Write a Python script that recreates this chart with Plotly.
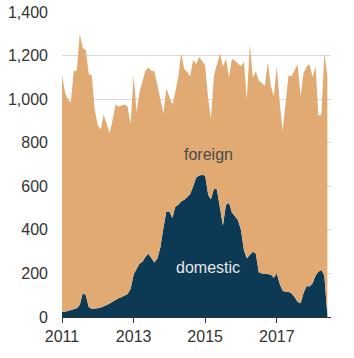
import plotly.graph_objects as go
import pandas as pd

months = pd.date_range("2011-01-01", periods=90, freq="MS")

total = [1110, 1030, 1000, 985, 1130, 1130, 1300, 1235, 1225, 1115,
         1110, 950, 880, 862, 930, 885, 845, 905, 975, 965,
         972, 975, 965, 885, 1110, 940, 1030, 1085, 1130, 1145,
         1130, 1128, 1070, 1000, 935, 1050, 1010, 975, 1030, 1100,
         1210, 1140, 1125, 1105, 1180, 1160, 1195, 1175, 1155, 1000,
         910, 1110, 1165, 1210, 1150, 1185, 1100, 1185, 1175, 1165,
         1152, 1172, 1000, 1250, 1100, 1128, 1085, 1075, 1060, 1170,
         1060, 1015, 1150, 980, 855, 985, 1110, 1105, 1130, 1160,
         1015, 1120, 1150, 1160, 1100, 1150, 925, 930, 1210, 1110]

domestic = [24, 24, 28, 32, 36, 40, 55, 110, 100, 46,
            38, 38, 40, 44, 48, 55, 62, 70, 80, 86,
            92, 100, 106, 130, 195, 222, 245, 254, 275, 290,
            272, 250, 270, 320, 410, 484, 484, 455, 505, 515,
            530, 538, 550, 565, 600, 640, 650, 652, 650, 560,
            540, 590, 585, 492, 420, 515, 523, 480, 460, 445,
            400, 305, 270, 285, 300, 290, 205, 200, 198, 198,
            195, 180, 200, 150, 120, 116, 116, 108, 92, 70,
            63, 110, 142, 140, 155, 190, 208, 216, 190, 10]

foreign = [t - d for t, d in zip(total, domestic)]

y_ticks = [0, 200, 400, 600, 800, 1000, 1200, 1400]
y_labels = ["0", "200", "400", "600", "800", "1,000", "1,200", "1,400"]

navy = "#0C3A54"
tan = "#E2AA73"

fig = go.Figure()
fig.add_trace(go.Scatter(x=months, y=domestic, stackgroup="one", mode="lines",
                         line=dict(width=0, color=navy), fillcolor=navy,
                         name="domestic", hoverinfo="skip"))
fig.add_trace(go.Scatter(x=months, y=foreign, stackgroup="one", mode="lines",
                         line=dict(width=0, color=tan), fillcolor=tan,
                         name="foreign", hoverinfo="skip"))

fig.add_annotation(x="2015-02-01", y=745, text="foreign", showarrow=False,
                   font=dict(family="Liberation Sans, Arial", size=16, color="#4a4a4a"))
fig.add_annotation(x="2015-02-01", y=225, text="domestic", showarrow=False,
                   font=dict(family="Liberation Sans, Arial", size=16, color="#e8e8e8"))

fig.update_layout(
    width=354, height=358,
    margin=dict(l=62, r=23, t=12, b=41),
    paper_bgcolor="white", plot_bgcolor="white",
    showlegend=False,
    font=dict(family="Liberation Sans, Arial", size=16, color="#333333"),
    xaxis=dict(
        range=["2011-01-01", "2018-07-08"],
        tickvals=["2011-01-01", "2013-01-01", "2015-01-01", "2017-01-01"],
        ticktext=["2011", "2013", "2015", "2017"],
        showgrid=False, showline=True, linecolor="#333333", linewidth=1,
        ticks="outside", ticklen=5, tickcolor="#333333",
        zeroline=False, automargin=False,
    ),
    yaxis=dict(
        range=[0, 1400],
        tickvals=y_ticks, ticktext=y_labels,
        showgrid=True, gridcolor="#d9d9d9", gridwidth=1,
        zeroline=False, showline=False, ticks="",
        ticklabelstandoff=13, automargin=False,
    ),
)

fig.write_html("out.html")
